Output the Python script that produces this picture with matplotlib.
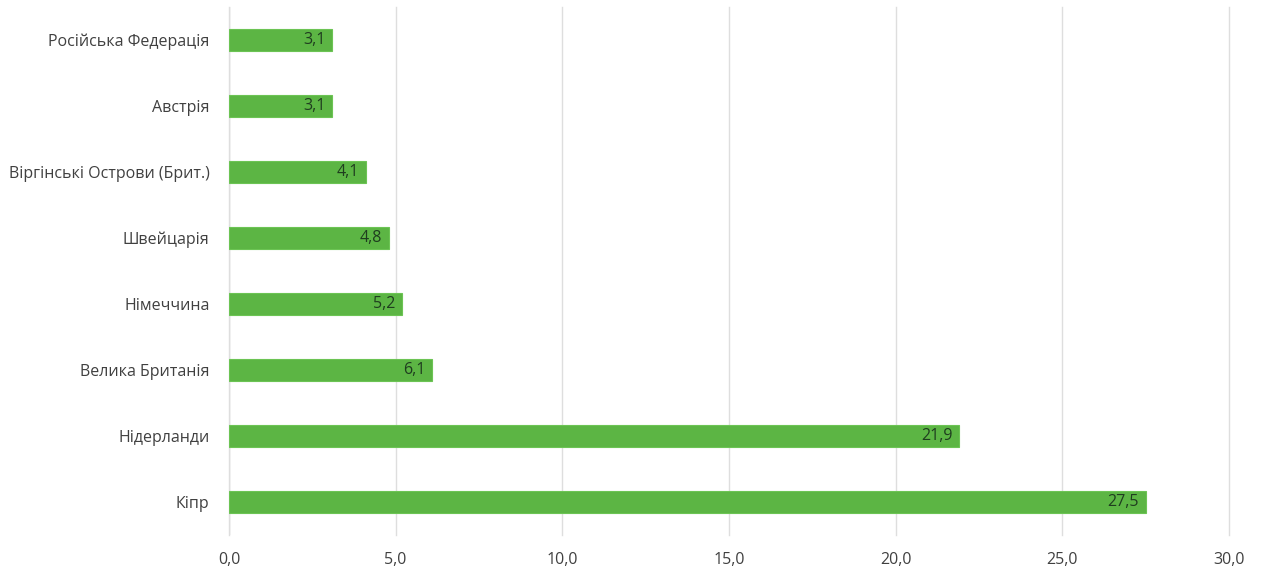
import matplotlib.pyplot as plt

countries = ["Кіпр", "Нідерланди", "Велика Британія", "Німеччина",
             "Швейцарія", "Віргінські Острови (Брит.)", "Австрія",
             "Російська Федерація"]
values = [27.5, 21.9, 6.1, 5.2, 4.8, 4.1, 3.1, 3.1]
xticks = [0, 5, 10, 15, 20, 25, 30]

plt.rcParams['font.family'] = ['Open Sans', 'DejaVu Sans']

fig = plt.figure(figsize=(12.63, 5.71), dpi=100)
ax = fig.add_axes([0.1813, 0.063, 0.7918, 0.925])

ax.barh(range(len(countries)), values, height=0.33,
        color="#5cb544", edgecolor="#6cc454", linewidth=0.8, zorder=3)
for i, v in enumerate(values):
    ax.text(v - 0.2, i, f"{v:.1f}".replace(".", ","), ha="right", va="center",
            fontsize=11.5, color="#1f3d1f", zorder=4)

ax.set_yticks(range(len(countries)))
ax.set_yticklabels(countries, fontsize=11.5, color="#404040")
ax.set_xticks(xticks)
ax.set_xticklabels([f"{t:.1f}".replace(".", ",") for t in xticks],
                   fontsize=11.5, color="#404040")
ax.set_xlim(0, 30)
ax.set_ylim(-0.5, len(countries) - 0.5)
ax.grid(axis="x", color="#dedede", linewidth=1, zorder=0)
for gl in ax.get_xgridlines():
    gl.set_clip_on(False)
ax.tick_params(axis="y", length=0, pad=14)
ax.tick_params(axis="x", length=0, pad=12)
for s in ax.spines.values():
    s.set_visible(False)
ax.axvline(0, color="#d0d0d0", linewidth=1, zorder=1)

fig.savefig("out.png", dpi=100)
